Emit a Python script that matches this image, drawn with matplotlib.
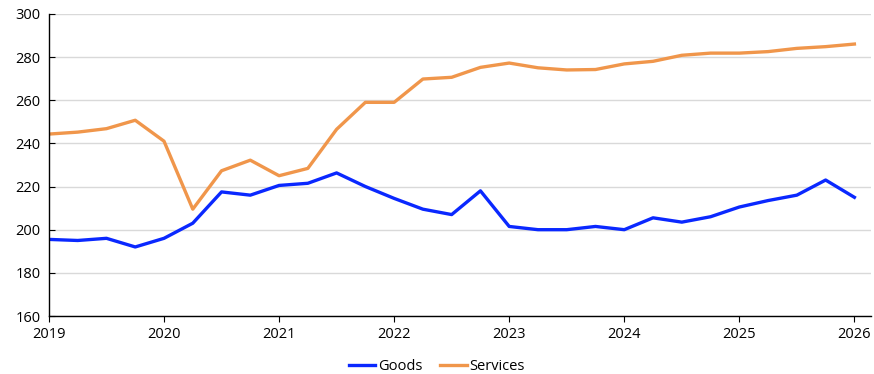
import matplotlib.pyplot as plt
import numpy as np

plt.rcParams['font.family'] = ['Open Sans', 'DejaVu Sans']

# quarterly, 2019Q1 .. 2026Q1
t = 2019 + np.arange(29) * 0.25

goods = [195.5, 195, 196, 192, 196, 203, 217.5, 216, 220.5, 221.5,
         226.3, 220, 214.5, 209.5, 207, 218, 201.5, 200, 200, 201.5,
         200, 205.5, 203.5, 206, 210.5, 213.5, 216, 223, 215]
services = [244.3, 245.2, 246.8, 250.7, 241, 209.5, 227.3, 232.2, 225, 228.4,
            246.5, 259, 259, 269.8, 270.6, 275.2, 277.2, 275, 274, 274.2,
            276.8, 278, 280.8, 281.8, 281.8, 282.5, 284, 284.8, 286]

years = list(range(2019, 2027))
yticks = list(range(160, 301, 20))

fig = plt.figure(figsize=(8.74, 3.74), dpi=100)
ax = fig.add_axes([0.056, 0.155, 0.94, 0.808])

ax.plot(t, goods, color='#0A28FF', lw=2.4, label='Goods')
ax.plot(t, services, color='#F0964B', lw=2.4, label='Services')

ax.set_xlim(2019, 2026.14)
ax.set_ylim(160, 300)
ax.set_xticks(years)
ax.set_yticks(yticks)
ax.tick_params(axis='both', labelsize=10.5, colors='black')
ax.tick_params(axis='y', length=4, direction='in', pad=6)
ax.tick_params(axis='x', length=4, direction='out', pad=4)
ax.grid(axis='y', color='#D9D9D9', lw=1)
ax.set_axisbelow(True)
for s in ['top', 'right']:
    ax.spines[s].set_visible(False)
ax.spines['left'].set_linewidth(1)
ax.spines['bottom'].set_linewidth(1)

fig.legend(loc='lower center', ncol=2, frameon=False, fontsize=10.5,
           handlelength=1.8, handletextpad=0.2, columnspacing=1.2,
           bbox_to_anchor=(0.5, -0.035))

fig.savefig('out.png', dpi=100)
